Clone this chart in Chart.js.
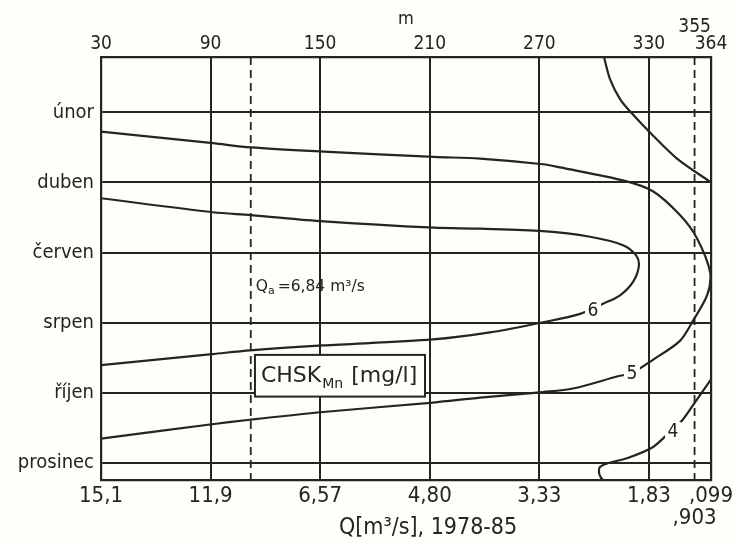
<!DOCTYPE html>
<html>
<head>
  <title>CHSK Mn izolinie</title>
  <script src="https://cdn.jsdelivr.net/npm/chart.js"></script>
  <style>
    html, body {
      margin: 0;
      padding: 0;
      background: #fefefb;
    }
    #wrap {
      width: 733px;
      height: 542px;
    }
  </style>
</head>
<body>
  <div id="wrap"><canvas id="isoChart"></canvas></div>

  <script>
    // osa x: pocet dni m (nahore) a odpovidajici prutok Q (dole)
    const dayTicks = [30, 90, 150, 210, 270, 330, 355, 364];
    const dayLabels = ['30', '90', '150', '210', '270', '330', '355', '364'];
    const flowLabels = ['15,1', '11,9', '6,57', '4,80', '3,33', '1,83', ',903', ',099'];
    const monthTicks = [2, 4, 6, 8, 10, 12];
    const monthNames = ['únor', 'duben', 'červen', 'srpen', 'říjen', 'prosinec'];
    const monthMin = 0.42, monthMax = 12.49;
    const qaDay = 112;     // Qa = 6,84 m3/s
    const markDay = 355;

    // izolinie CHSK-Mn [mg/l], body (den, mesic)
    const iso6Day = [30, 91.3, 112.1, 152.1, 212.3, 237.5, 272.0, 297.7, 315.8, 323.0, 324.5,
      321.5, 314.2, 304.9, 292.3, 272.0, 242.9, 211.8, 151.6, 111.6, 90.8, 30];
    const iso6Month = [4.45, 4.85, 4.93, 5.11, 5.29, 5.32, 5.39, 5.55, 5.79, 6.08, 6.38,
      6.82, 7.22, 7.46, 7.75, 7.99, 8.28, 8.48, 8.65, 8.79, 8.90, 9.21];

    const iso5Day = [30, 91.3, 112.1, 152.1, 212.3, 237.5, 272.0, 281.3, 315.8, 332.2, 347.0, 356.3,
      363.6, 362.0, 354.1, 347.0, 332.2, 320.7, 313.1, 288.4, 272.0, 237.5, 211.8, 151.6, 111.6, 90.8, 30];
    const iso5Month = [2.55, 2.88, 3.00, 3.12, 3.27, 3.32, 3.48, 3.57, 3.94, 4.25, 4.93, 5.59,
      6.58, 7.20, 7.95, 8.52, 9.06, 9.44, 9.53, 9.88, 9.98, 10.14, 10.28, 10.55, 10.77, 10.90, 11.31];

    const iso4TopDay = [305.4, 308.7, 314.2, 320.0, 332.2, 345.2, 364];
    const iso4TopMonth = [0.42, 1.05, 1.62, 1.99, 2.66, 3.31, 4.0];
    const iso4BotDay = [364, 355.8, 348.5, 339.3, 331.6, 318.4, 307.5, 303.2, 302.7, 303.8, 304.9];
    const iso4BotMonth = [9.62, 10.23, 10.77, 11.23, 11.57, 11.86, 12.01, 12.12, 12.29, 12.43, 12.49];

    const contourValues = ['6', '5', '4'];
    const contourLabelDay = [299.4, 320.7, 343.2];
    const contourLabelMonth = [7.65, 9.44, 11.09];

    const ink = '#28231f';
    const paper = '#fefefb';
    const fam = '"DejaVu Sans Condensed", "DejaVu Sans", sans-serif';
    Chart.defaults.font.family = fam;
    Chart.defaults.color = ink;

    const toPoints = (xs, ys) => xs.map((x, i) => ({ x: x, y: ys[i] }));

    function isoLine(days, months) {
      return {
        data: toPoints(days, months),
        borderColor: ink,
        borderWidth: 2.2,
        pointRadius: 0,
        tension: 0.3,
        showLine: true,
        fill: false
      };
    }

    function dashLine(day) {
      return {
        data: [{ x: day, y: monthMin }, { x: day, y: monthMax }],
        borderColor: ink,
        borderWidth: 1.8,
        borderDash: [8, 5],
        pointRadius: 0,
        showLine: true
      };
    }

    const setDayTicks = s => { s.ticks = dayTicks.map(v => ({ value: v })); };
    // krajni popisky nesmi zuzit plochu grafu
    const noSidePad = h => s => { s.height = h; s.paddingLeft = 0; s.paddingRight = 0; };

    const notes = {
      id: 'notes',
      afterDatasetsDraw(chart) {
        const { ctx, scales: { x, y } } = chart;
        ctx.save();

        // popisky izolinii
        ctx.font = '19px ' + fam;
        ctx.textAlign = 'center';
        ctx.textBaseline = 'middle';
        contourValues.forEach((v, i) => {
          const px = x.getPixelForValue(contourLabelDay[i]);
          const py = y.getPixelForValue(contourLabelMonth[i]);
          ctx.fillStyle = paper;
          ctx.fillRect(px - 8, py - 9, 16, 18);
          ctx.fillStyle = ink;
          ctx.fillText(v, px, py + 1);
        });

        // Qa = 6,84 m3/s
        ctx.textAlign = 'left';
        ctx.textBaseline = 'alphabetic';
        let tx = x.getPixelForValue(qaDay) + 5;
        const ty = y.getPixelForValue(7.1);
        ctx.font = '15.5px "DejaVu Sans", sans-serif';
        ctx.fillText('Q', tx, ty);
        tx += ctx.measureText('Q').width;
        ctx.font = '11px "DejaVu Sans", sans-serif';
        ctx.fillText('a', tx, ty + 3);
        tx += ctx.measureText('a').width + 3;
        ctx.font = '15.5px "DejaVu Sans", sans-serif';
        ctx.fillText('=6,84 m³/s', tx, ty);

        // ramecek CHSK Mn [mg/l]
        const bx0 = x.getPixelForValue(114.3), bx1 = x.getPixelForValue(207.4);
        const by0 = y.getPixelForValue(8.92), by1 = y.getPixelForValue(10.11);
        ctx.fillStyle = paper;
        ctx.fillRect(bx0, by0, bx1 - bx0, by1 - by0);
        ctx.strokeStyle = ink;
        ctx.lineWidth = 2;
        ctx.strokeRect(bx0, by0, bx1 - bx0, by1 - by0);
        ctx.fillStyle = ink;
        let cx = bx0 + 6;
        const cy = by0 + 27;
        ctx.font = '22px "DejaVu Sans", sans-serif';
        ctx.fillText('CHSK', cx, cy);
        cx += ctx.measureText('CHSK').width + 1;
        ctx.font = '14px "DejaVu Sans", sans-serif';
        ctx.fillText('Mn', cx, cy + 6);
        cx += ctx.measureText('Mn').width + 8;
        ctx.font = '22px "DejaVu Sans", sans-serif';
        ctx.fillText('[mg/l]', cx, cy);

        ctx.restore();
      },
      afterDraw(chart) {
        const { ctx, chartArea } = chart;
        ctx.save();
        ctx.fillStyle = ink;
        ctx.font = '23px ' + fam;
        ctx.textAlign = 'center';
        ctx.textBaseline = 'alphabetic';
        ctx.fillText('Q[m³/s], 1978-85', (chartArea.left + chartArea.right) / 2 + 22, chartArea.bottom + 54);
        ctx.restore();
      }
    };

    const ctx = document.getElementById('isoChart').getContext('2d');
    new Chart(ctx, {
      type: 'scatter',
      data: {
        datasets: [
          dashLine(qaDay),
          dashLine(markDay),
          isoLine(iso5Day, iso5Month),
          isoLine(iso6Day, iso6Month),
          isoLine(iso4TopDay, iso4TopMonth),
          isoLine(iso4BotDay, iso4BotMonth)
        ]
      },
      options: {
        responsive: true,
        maintainAspectRatio: false,
        animation: false,
        layout: { padding: 0 },
        plugins: {
          legend: { display: false },
          tooltip: { enabled: false }
        },
        scales: {
          x: {
            type: 'linear',
            position: 'bottom',
            min: 30,
            max: 364,
            afterBuildTicks: setDayTicks,
            afterFit: noSidePad(62),
            ticks: {
              autoSkip: false,
              maxRotation: 0,
              padding: 5,
              font: { size: 22, lineHeight: 1.0 },
              callback: v => {
                const lab = flowLabels[dayTicks.indexOf(v)];
                return v === markDay ? ['', lab] : lab;
              }
            },
            grid: {
              color: c => (c.tick && c.tick.value === markDay) ? 'rgba(0,0,0,0)' : ink,
              lineWidth: 2,
              drawTicks: false
            },
            border: { color: ink, width: 2.2 }
          },
          x2: {
            type: 'linear',
            position: 'top',
            min: 30,
            max: 364,
            afterBuildTicks: setDayTicks,
            afterFit: noSidePad(57),
            ticks: {
              autoSkip: false,
              maxRotation: 0,
              padding: 4,
              font: { size: 19, lineHeight: 0.9 },
              callback: v => {
                const lab = dayLabels[dayTicks.indexOf(v)];
                return v === markDay ? [lab, ''] : lab;
              }
            },
            grid: { display: false, drawTicks: false },
            border: { color: ink, width: 2.2 },
            title: {
              display: true,
              text: 'm',
              font: { size: 18 },
              padding: { top: 9, bottom: 0 }
            }
          },
          y: {
            type: 'linear',
            position: 'left',
            reverse: true,
            min: monthMin,
            max: monthMax,
            afterBuildTicks: s => { s.ticks = monthTicks.map(v => ({ value: v })); },
            afterFit: s => { s.width = 101; },
            ticks: {
              autoSkip: false,
              padding: 7,
              font: { size: 20 },
              callback: v => monthNames[monthTicks.indexOf(v)]
            },
            grid: { color: ink, lineWidth: 2, drawTicks: false },
            border: { color: ink, width: 2.2 }
          },
          y2: {
            type: 'linear',
            position: 'right',
            reverse: true,
            min: monthMin,
            max: monthMax,
            afterFit: s => { s.width = 22; },
            ticks: { display: false },
            grid: { display: false, drawTicks: false },
            border: { color: ink, width: 2.2 }
          }
        }
      },
      plugins: [notes]
    });
  </script>
</body>
</html>
